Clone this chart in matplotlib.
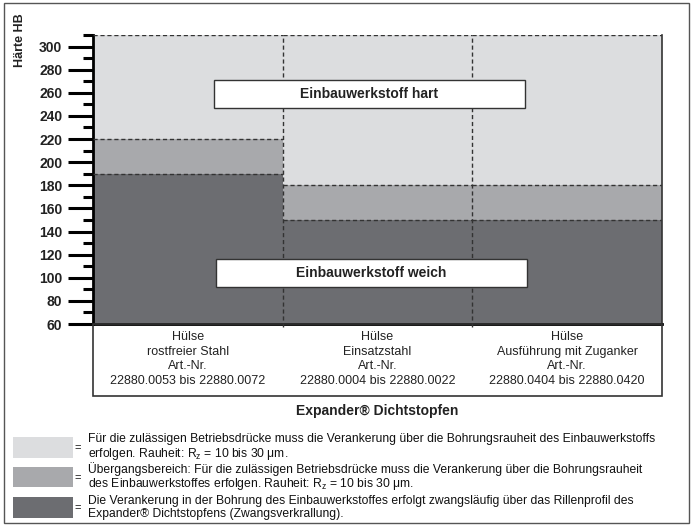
import matplotlib
matplotlib.use("Agg")
import matplotlib.pyplot as plt
from matplotlib.patches import Rectangle

plt.rcParams["font.family"] = ["Liberation Sans", "DejaVu Sans"]
plt.rcParams["mathtext.default"] = "regular"

# hardness bands per sleeve type (Härte HB)
sleeves = ["rostfreier Stahl", "Einsatzstahl", "Ausführung mit Zuganker"]
art_nr = ["22880.0053 bis 22880.0072", "22880.0004 bis 22880.0022", "22880.0404 bis 22880.0420"]
soft_top = [190, 150, 150]
transition_top = [220, 180, 180]
hard_top = [310, 310, 310]
y_min = 60
y_ticks = list(range(60, 301, 20))

c_light, c_mid, c_dark = "#dcdddf", "#a8a9ac", "#6c6d71"
legend_texts = [
    "Für die zulässigen Betriebsdrücke muss die Verankerung über die Bohrungsrauheit des Einbauwerkstoffs\n"
    "erfolgen. Rauheit: R$_z$ = 10 bis 30 μm.",
    "Übergangsbereich: Für die zulässigen Betriebsdrücke muss die Verankerung über die Bohrungsrauheit\n"
    "des Einbauwerkstoffes erfolgen. Rauheit: R$_z$ = 10 bis 30 μm.",
    "Die Verankerung in der Bohrung des Einbauwerkstoffes erfolgt zwangsläufig über das Rillenprofil des\n"
    "Expander® Dichtstopfens (Zwangsverkrallung).",
]

W, H = 695, 526
fig = plt.figure(figsize=(W / 100, H / 100), dpi=100)


def fx(x):
    return x / W


def fy(y):
    return 1 - y / H


# plot region in pixels
left, right, top, bottom = 93, 662, 35, 324
ax = fig.add_axes([fx(left), fy(bottom), fx(right) - fx(left), fy(top) - fy(bottom)])
xs = range(len(sleeves))
ax.bar(xs, [t - y_min for t in soft_top], bottom=y_min, width=1, align="edge", color=c_dark, linewidth=0)
ax.bar(xs, [m - s for m, s in zip(transition_top, soft_top)], bottom=soft_top, width=1, align="edge", color=c_mid, linewidth=0)
ax.bar(xs, [h - m for h, m in zip(hard_top, transition_top)], bottom=transition_top, width=1, align="edge", color=c_light, linewidth=0)
for i in xs:
    for yv in (soft_top[i], transition_top[i], hard_top[i]):
        ax.plot([i, i + 1], [yv, yv], color="#333333", lw=1, ls=(0, (3, 2)), zorder=3)
for i in range(1, len(sleeves)):
    ax.plot([i, i], [y_min - 3, hard_top[i]], color="#333333", lw=1, ls=(0, (3, 2)), zorder=3, clip_on=False)
ax.set_xlim(0, len(sleeves))
ax.set_ylim(y_min, max(hard_top))
ax.set_xticks([])
ax.set_yticks(y_ticks)
ax.set_yticks([v + 10 for v in y_ticks[:-1]] + [310], minor=True)
ax.tick_params(axis="y", which="major", length=18, width=2.2, pad=4, labelsize=10)
ax.tick_params(axis="y", which="minor", length=7, width=2.2)
for lab in ax.get_yticklabels():
    lab.set_fontweight("bold")
    lab.set_color("#222222")
ax.spines["top"].set_visible(False)
ax.spines["left"].set_linewidth(2)
ax.spines["bottom"].set_linewidth(2)
ax.spines["right"].set_linewidth(1.2)
ax.spines["right"].set_color("#333333")

# label boxes
for (x0, x1, y0, y1, txt) in [(0.636, 2.28, 247, 271, "Einbauwerkstoff hart"),
                              (0.646, 2.29, 92, 116, "Einbauwerkstoff weich")]:
    ax.add_patch(Rectangle((x0, y0), x1 - x0, y1 - y0, facecolor="white", edgecolor="#333333", lw=1, zorder=4))
    ax.text((x0 + x1) / 2, (y0 + y1) / 2, txt, ha="center", va="center", fontsize=10, fontweight="bold",
            color="#222222", zorder=5)

fig.text(fx(20), fy(40), "Härte HB", rotation=90, ha="center", va="center", fontsize=9, fontweight="bold", color="#222222")

# table under the plot
tab_bottom = 396
fig.add_artist(Rectangle((fx(left), fy(tab_bottom)), fx(right) - fx(left), fy(bottom) - fy(tab_bottom),
                         transform=fig.transFigure, facecolor="none", edgecolor="#333333", lw=1.2))
col_w = (right - left) / len(sleeves)
for i, (s, a) in enumerate(zip(sleeves, art_nr)):
    cx = left + col_w * (i + 0.5)
    fig.text(fx(cx), fy(359), "Hülse\n%s\nArt.-Nr.\n%s" % (s, a), ha="center", va="center", fontsize=9,
             linespacing=1.3, color="#222222")

fig.text(fx((left + right) / 2), fy(411), "Expander® Dichtstopfen", ha="center", va="center", fontsize=10,
         fontweight="bold", color="#222222")

# legend
for (y0, y1), col, txt in zip([(437, 458), (467, 487), (497, 518)], [c_light, c_mid, c_dark], legend_texts):
    fig.add_artist(Rectangle((fx(13), fy(y1)), fx(73) - fx(13), fy(y0) - fy(y1), transform=fig.transFigure,
                             facecolor=col, edgecolor="none"))
    cy = (y0 + y1) / 2
    fig.text(fx(78), fy(cy + 1), "=", ha="center", va="center", fontsize=8, color="#111111")
    fig.text(fx(88), fy(cy), txt, ha="left", va="center", fontsize=8.75, linespacing=1.05,
             color="#111111")

# outer frame
fig.add_artist(Rectangle((fx(4), fy(523)), fx(689) - fx(4), fy(3) - fy(523), transform=fig.transFigure,
                         facecolor="none", edgecolor="#555555", lw=1))

fig.savefig("out.png", dpi=100)
